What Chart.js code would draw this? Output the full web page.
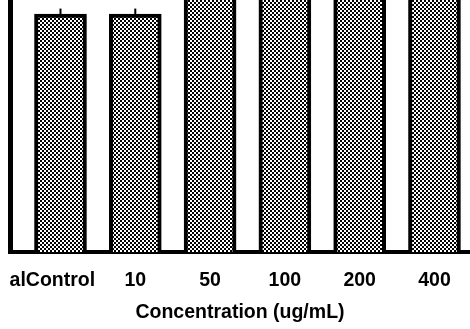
<!DOCTYPE html>
<html>
<head>
<meta charset="utf-8">
<script src="https://cdn.jsdelivr.net/npm/chart.js"></script>
<style>
    html, body { margin: 0; padding: 0; background: #fff; }
    #wrap { width: 470px; height: 329px; }
</style>
</head>
<body>
<div id="wrap"><canvas id="barChart" width="470" height="329"></canvas></div>
<script>
// 数据
const categories = ['alControl', '10', '50', '100', '200', '400'];
const values = [94.4, 94.4, 118, 122, 125, 128];
const errors = [2.2, 2.2, 3, 3, 3, 3];
const axisTitle = 'Concentration (ug/mL)';

const labelFont = { family: "'Liberation Sans', Arial, sans-serif", size: 19.5, weight: 'bold' };

// 棋盘格填充
function makePattern() {
    const c = document.createElement('canvas');
    c.width = 4;
    c.height = 4;
    const g = c.getContext('2d');
    g.fillStyle = '#fff';
    g.fillRect(0, 0, 4, 4);
    g.fillStyle = '#000';
    g.fillRect(0, 0, 2, 2);
    g.fillRect(2, 2, 2, 2);
    return g.createPattern(c, 'repeat');
}

// 误差线
const errorBarPlugin = {
    id: 'errorBars',
    afterDatasetsDraw(chart) {
        const { ctx, scales: { x, y } } = chart;
        ctx.save();
        ctx.strokeStyle = '#000';
        ctx.lineWidth = 2;
        values.forEach((v, i) => {
            const px = x.getPixelForValue(i);
            ctx.beginPath();
            ctx.moveTo(px, y.getPixelForValue(v));
            ctx.lineTo(px, y.getPixelForValue(v + errors[i]));
            ctx.stroke();
        });
        ctx.restore();
    }
};

document.addEventListener('DOMContentLoaded', function() {
    const ctx = document.getElementById('barChart').getContext('2d');
    new Chart(ctx, {
        type: 'bar',
        data: {
            datasets: [{
                data: values.map((v, i) => ({ x: i, y: v })),
                backgroundColor: makePattern(),
                borderColor: '#000',
                borderWidth: 4,
                barThickness: 52,
                borderSkipped: 'bottom'
            }]
        },
        options: {
            responsive: false,
            animation: false,
            layout: { padding: { left: 10, right: 0, top: 0, bottom: 5 } },
            plugins: {
                legend: { display: false },
                tooltip: { enabled: false }
            },
            scales: {
                x: {
                    type: 'linear',
                    offset: false,
                    min: -0.675,
                    max: 5.475,
                    grid: { display: false, drawTicks: true, tickLength: 17 },
                    border: { display: true, color: '#000', width: 4 },
                    afterBuildTicks: axis => {
                        axis.ticks = categories.map((c, i) => ({ value: i }));
                    },
                    ticks: {
                        color: '#000',
                        font: labelFont,
                        padding: 0,
                        maxRotation: 0,
                        autoSkip: false,
                        callback: v => v === 0 ? categories[v] + '\u00a0\u00a0\u00a0' : categories[v]
                    },
                    title: {
                        display: true,
                        text: axisTitle,
                        color: '#000',
                        font: labelFont,
                        padding: { top: 8, bottom: 0 }
                    }
                },
                y: {
                    min: 0,
                    max: 100,
                    grid: { display: false, drawTicks: false },
                    border: { display: true, color: '#000', width: 5 },
                    ticks: { display: false }
                }
            }
        },
        plugins: [errorBarPlugin]
    });
});
</script>
</body>
</html>
